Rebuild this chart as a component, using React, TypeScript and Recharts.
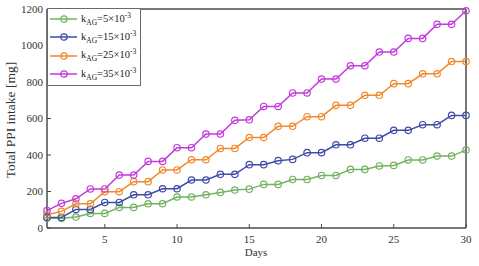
import React from 'react';
import { LineChart, Line, XAxis, YAxis, ReferenceArea } from 'recharts';

// days 1..30
const DAYS = [1, 2, 3, 4, 5, 6, 7, 8, 9, 10, 11, 12, 13, 14, 15, 16, 17, 18, 19, 20, 21, 22, 23, 24, 25, 26, 27, 28, 29, 30];

const K5 = [55, 53, 60, 80, 80, 113, 113, 133, 133, 170, 170, 182, 195, 208, 213, 239, 239, 266, 266, 288, 288, 321, 321, 340, 343, 373, 373, 394, 394, 427];
const K15 = [58, 58, 102, 102, 140, 140, 182, 182, 215, 215, 263, 263, 294, 294, 347, 347, 369, 376, 413, 413, 456, 456, 492, 492, 535, 535, 566, 566, 617, 617];
const K25 = [73, 91, 133, 133, 199, 199, 254, 254, 318, 318, 374, 374, 436, 436, 496, 496, 557, 557, 610, 610, 672, 672, 727, 727, 791, 791, 845, 845, 912, 912];
const K35 = [95, 135, 160, 214, 214, 290, 290, 365, 365, 440, 440, 515, 515, 590, 593, 666, 666, 740, 740, 816, 816, 889, 889, 964, 964, 1039, 1039, 1116, 1116, 1190];

const X_TICKS = [5, 10, 15, 20, 25, 30];
const Y_TICKS = [0, 200, 400, 600, 800, 1000, 1200];

const SERIES = [
  { key: 'k5', k: '5', color: '#72b262', values: K5 },
  { key: 'k15', k: '15', color: '#3d4ca8', values: K15 },
  { key: 'k25', k: '25', color: '#f08a2b', values: K25 },
  { key: 'k35', k: '35', color: '#c33adc', values: K35 },
];

const data = DAYS.map((day, i) => {
  const row: Record<string, number> = { day };
  SERIES.forEach((s) => {
    row[s.key] = s.values[i];
  });
  return row;
});

const FONT = '"Liberation Serif", "Times New Roman", serif';
const AXIS = '#4a4a4a';
const tickStyle = { fontFamily: FONT, fontSize: 11, fill: '#333' };

function Legend() {
  return (
    <div
      style={{
        position: 'absolute',
        left: 47,
        top: 8,
        width: 94,
        height: 78,
        border: '1px solid #6a6a6a',
        background: '#fff',
        paddingTop: 1,
        boxSizing: 'border-box',
        fontFamily: FONT,
        fontSize: 10.5,
        color: '#222',
      }}
    >
      {SERIES.map((s) => (
        <div key={s.key} style={{ height: 18.3, display: 'flex', alignItems: 'center' }}>
          <svg width={31} height={10} style={{ flex: 'none' }}>
            <line x1={2} y1={5} x2={29} y2={5} stroke={s.color} strokeWidth={1.5} />
            <circle cx={16} cy={5} r={3.2} fill="none" stroke={s.color} strokeWidth={1.2} />
          </svg>
          <span style={{ marginLeft: 2, whiteSpace: 'nowrap', lineHeight: 1 }}>
            k<span style={{ fontSize: 7.5, position: 'relative', top: 3 }}>AG</span>={s.k}×10
            <span style={{ fontSize: 7.5, position: 'relative', top: -4 }}>-3</span>
          </span>
        </div>
      ))}
    </div>
  );
}

export default function App() {
  return (
    <div style={{ position: 'absolute', left: 0, top: 0, width: 479, height: 266, background: '#fff' }}>
      <LineChart width={479} height={266} data={data} margin={{ top: 8, right: 12, bottom: 8, left: 0 }}>
        <XAxis
          xAxisId="b"
          dataKey="day"
          type="number"
          domain={[1, 30]}
          ticks={X_TICKS}
          height={30}
          tickSize={-4}
          tickMargin={11}
          stroke={AXIS}
          tick={tickStyle}
          label={() => (
            <text x={256} y={256} textAnchor="middle" style={{ fontFamily: FONT, fontSize: 11, fill: '#333' }}>
              Days
            </text>
          )}
        />
        <XAxis
          xAxisId="t"
          orientation="top"
          dataKey="day"
          type="number"
          domain={[1, 30]}
          ticks={X_TICKS}
          height={1}
          tickSize={-4}
          tick={false}
          stroke={AXIS}
        />
        <YAxis
          yAxisId="l"
          type="number"
          domain={[0, 1200]}
          ticks={Y_TICKS}
          width={47}
          tickSize={-4}
          tickMargin={8}
          stroke={AXIS}
          tick={tickStyle}
          label={() => (
            <text
              x={15}
              y={120}
              transform="rotate(-90 15 120)"
              textAnchor="middle"
              style={{ fontFamily: FONT, fontSize: 13.5, fill: '#333' }}
            >
              Total PPI intake [mg]
            </text>
          )}
        />
        <YAxis
          yAxisId="r"
          orientation="right"
          type="number"
          domain={[0, 1200]}
          ticks={Y_TICKS}
          width={1}
          tickSize={-4}
          tick={false}
          stroke={AXIS}
        />
        <ReferenceArea
          xAxisId="b"
          yAxisId="l"
          x1={1}
          x2={30}
          y1={0}
          y2={1200}
          fill="none"
          fillOpacity={0}
          stroke={AXIS}
          strokeWidth={1}
        />
        {SERIES.map((s, i) => (
          <Line
            key={s.key}
            xAxisId={i < 2 ? 'b' : 't'}
            yAxisId={i < 2 ? 'l' : 'r'}
            dataKey={s.key}
            stroke={s.color}
            strokeWidth={1.5}
            dot={{ r: 3.2, fill: 'none', stroke: s.color, strokeWidth: 1.2 }}
            isAnimationActive={false}
          />
        ))}
      </LineChart>
      <Legend />
    </div>
  );
}
